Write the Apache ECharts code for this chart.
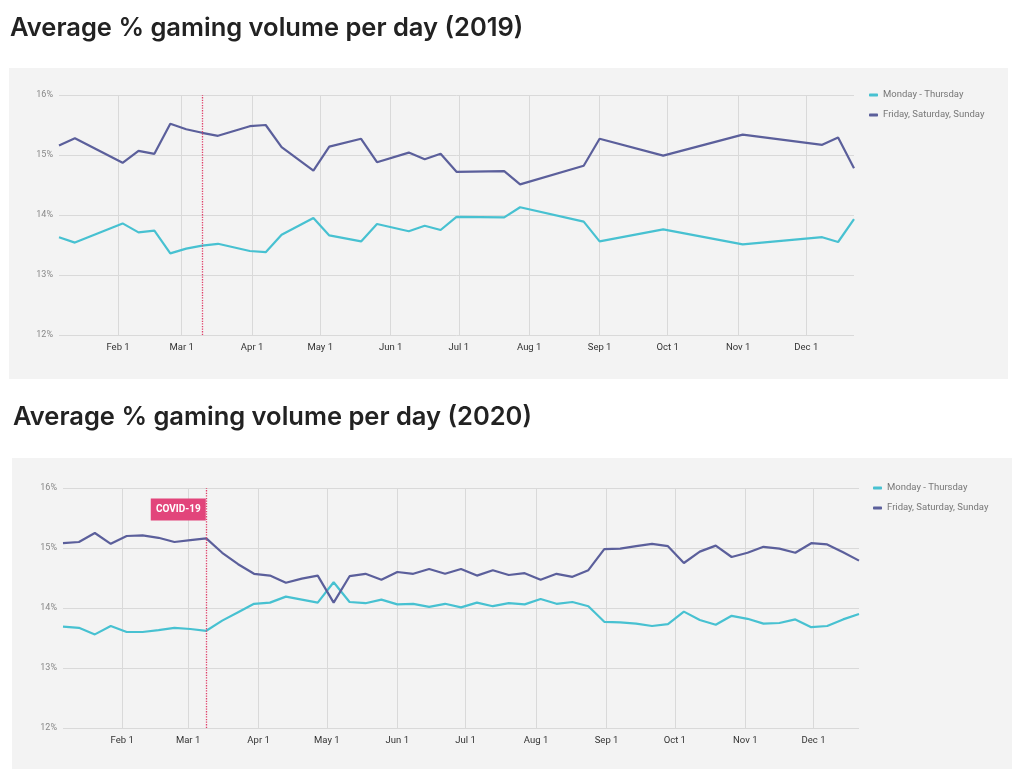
<!DOCTYPE html>
<html>
<head>
<meta charset="utf-8">
<script src="https://cdn.jsdelivr.net/npm/echarts@6/dist/echarts.min.js"></script>
<style>
html,body{margin:0;padding:0;background:#fff;}
#c{width:1024px;height:780px;}
</style>
</head>
<body>
<div id="c"></div>
<script>
// ---- Data ----
var titles = ['Average % gaming volume per day (2019)', 'Average % gaming volume per day (2020)'];
var seriesNames = ['Monday - Thursday', 'Friday, Saturday, Sunday'];

var dates2019 = ['2019-01-06','2019-01-13','2019-02-03','2019-02-10','2019-02-17','2019-02-24','2019-03-03','2019-03-10','2019-03-17','2019-03-31','2019-04-07','2019-04-14','2019-04-28','2019-05-05','2019-05-19','2019-05-26','2019-06-09','2019-06-16','2019-06-23','2019-06-30','2019-07-21','2019-07-28','2019-08-25','2019-09-01','2019-09-29','2019-11-03','2019-12-08','2019-12-15','2019-12-22'];
var monThu2019 = [13.63,13.54,13.86,13.71,13.74,13.36,13.44,13.49,13.52,13.40,13.38,13.67,13.95,13.66,13.56,13.85,13.73,13.82,13.75,13.97,13.96,14.13,13.89,13.56,13.76,13.51,13.63,13.55,13.93];
var friSun2019 = [15.16,15.28,14.87,15.07,15.02,15.52,15.43,15.37,15.32,15.48,15.50,15.13,14.74,15.14,15.27,14.88,15.04,14.93,15.02,14.72,14.73,14.51,14.82,15.27,14.99,15.34,15.17,15.29,14.78];

var dates2020 = ['2020-01-06','2020-01-13','2020-01-20','2020-01-27','2020-02-03','2020-02-10','2020-02-17','2020-02-24','2020-03-02','2020-03-09','2020-03-16','2020-03-23','2020-03-30','2020-04-06','2020-04-13','2020-04-20','2020-04-27','2020-05-04','2020-05-11','2020-05-18','2020-05-25','2020-06-01','2020-06-08','2020-06-15','2020-06-22','2020-06-29','2020-07-06','2020-07-13','2020-07-20','2020-07-27','2020-08-03','2020-08-10','2020-08-17','2020-08-24','2020-08-31','2020-09-07','2020-09-14','2020-09-21','2020-09-28','2020-10-05','2020-10-12','2020-10-19','2020-10-26','2020-11-02','2020-11-09','2020-11-16','2020-11-23','2020-11-30','2020-12-07','2020-12-14','2020-12-21'];
var monThu2020 = [13.69,13.67,13.56,13.70,13.60,13.60,13.63,13.67,13.65,13.62,13.79,13.93,14.07,14.09,14.19,14.14,14.09,14.43,14.10,14.08,14.14,14.06,14.07,14.02,14.07,14.01,14.09,14.03,14.08,14.06,14.15,14.07,14.10,14.03,13.77,13.76,13.74,13.70,13.73,13.94,13.80,13.72,13.87,13.82,13.74,13.75,13.81,13.68,13.70,13.81,13.90];
var friSun2020 = [15.08,15.10,15.25,15.07,15.20,15.21,15.17,15.10,15.13,15.16,14.92,14.73,14.57,14.54,14.42,14.49,14.54,14.09,14.53,14.57,14.47,14.60,14.57,14.65,14.57,14.65,14.54,14.63,14.55,14.58,14.47,14.57,14.52,14.63,14.98,14.99,15.03,15.07,15.03,14.75,14.94,15.04,14.85,14.92,15.02,14.99,14.92,15.08,15.06,14.93,14.79];

var markerDate2019 = '2019-03-10';
var covidDate2020 = '2020-03-09';
var covidLabel = 'COVID-19';
var yTicks = [12, 13, 14, 15, 16];

// ---- Chart ----
var colors = ['#47c1d1', '#5b5f9b'];
var monthNames = ['Jan','Feb','Mar','Apr','May','Jun','Jul','Aug','Sep','Oct','Nov','Dec'];

function pairs(d, v) { return d.map(function (x, i) { return [x, v[i]]; }); }

function xAxisCfg(gi, mn, mx) {
  return {
    type: 'time', gridIndex: gi, min: mn, max: mx,
    splitNumber: 12,
    minInterval: 28 * 86400000,
    maxInterval: 31 * 86400000,
    axisLine: { show: false }, axisTick: { show: false },
    splitLine: { show: true, showMinLine: false, showMaxLine: false, lineStyle: { color: '#d9d9d9', width: 1 } },
    axisLabel: {
      fontFamily: 'Roboto', fontSize: 9.5, color: '#333', margin: 8,
      showMinLabel: false, showMaxLabel: false,
      formatter: function (val) {
        var d = new Date(val);
        if (d.getDate() !== 1) return '';
        return monthNames[d.getMonth()] + ' 1';
      }
    }
  };
}
function yAxisCfg(gi) {
  return {
    type: 'value', gridIndex: gi, min: yTicks[0], max: yTicks[yTicks.length - 1], interval: 1,
    axisLine: { show: false }, axisTick: { show: false },
    splitLine: { lineStyle: { color: '#d9d9d9', width: 1 } },
    axisLabel: { fontFamily: 'Roboto', fontSize: 9, color: '#888', margin: 6, formatter: '{value}%' }
  };
}
function lineSeries(name, gi, data, color, extra) {
  var s = {
    name: name, type: 'line', xAxisIndex: gi, yAxisIndex: gi, data: data,
    symbol: 'none', showSymbol: false, smooth: false,
    lineStyle: { width: 2.2, color: color }, itemStyle: { color: color },
    emphasis: { disabled: true }, z: 3
  };
  if (extra) for (var k in extra) s[k] = extra[k];
  return s;
}
var dottedLine = { type: 'dotted', color: '#e0406a', width: 1.3 };
var titleStyle = { fontFamily: 'Inter', fontWeight: 600, fontSize: 25.5, color: '#222' };
var legendText = { fontFamily: 'Roboto', fontSize: 9.5, color: '#777' };

var option = {
  animation: false,
  backgroundColor: '#ffffff',
  title: [
    { text: titles[0], left: 10, top: 15, padding: 0, textStyle: titleStyle },
    { text: titles[1], left: 13, top: 404, padding: 0, textStyle: titleStyle }
  ],
  graphic: [
    { type: 'rect', shape: { x: 9, y: 68, width: 999, height: 311 }, style: { fill: '#f3f3f3' }, z: -10, silent: true },
    { type: 'rect', shape: { x: 12, y: 458, width: 1000, height: 311 }, style: { fill: '#f3f3f3' }, z: -10, silent: true }
  ],
  legend: [
    { data: seriesNames, orient: 'vertical', left: 864, top: 85, itemGap: 10, itemWidth: 9, itemHeight: 3, icon: 'roundRect', textStyle: legendText },
    { data: seriesNames, orient: 'vertical', left: 868, top: 478, itemGap: 10, itemWidth: 9, itemHeight: 3, icon: 'roundRect', textStyle: legendText }
  ],
  grid: [
    { left: 59, right: 170, top: 95, height: 240 },
    { left: 63, right: 165, top: 488, height: 240 }
  ],
  xAxis: [
    xAxisCfg(0, dates2019[0], dates2019[dates2019.length - 1]),
    xAxisCfg(1, dates2020[0], dates2020[dates2020.length - 1])
  ],
  yAxis: [yAxisCfg(0), yAxisCfg(1)],
  series: [
    lineSeries(seriesNames[0], 0, pairs(dates2019, monThu2019), colors[0], {
      markLine: { silent: true, symbol: 'none', label: { show: false }, lineStyle: dottedLine, data: [{ xAxis: markerDate2019 }] }
    }),
    lineSeries(seriesNames[1], 0, pairs(dates2019, friSun2019), colors[1]),
    lineSeries(seriesNames[0], 1, pairs(dates2020, monThu2020), colors[0], {
      markLine: { silent: true, symbol: 'none', label: { show: false }, lineStyle: dottedLine, data: [{ xAxis: covidDate2020 }] }
    }),
    lineSeries(seriesNames[1], 1, pairs(dates2020, friSun2020), colors[1], {
      markPoint: {
        silent: true,
        data: [{ coord: [covidDate2020, 15.64], value: covidLabel }],
        symbol: 'rect', symbolSize: [55, 22], symbolOffset: [-28, 0],
        itemStyle: { color: '#e2457b' },
        label: { show: true, formatter: covidLabel, color: '#fff', fontFamily: 'Roboto', fontWeight: 'bold', fontSize: 10 }
      }
    })
  ]
};

var chart = echarts.init(document.getElementById('c'), null, { renderer: 'canvas' });
chart.setOption(option);
</script>
</body>
</html>
